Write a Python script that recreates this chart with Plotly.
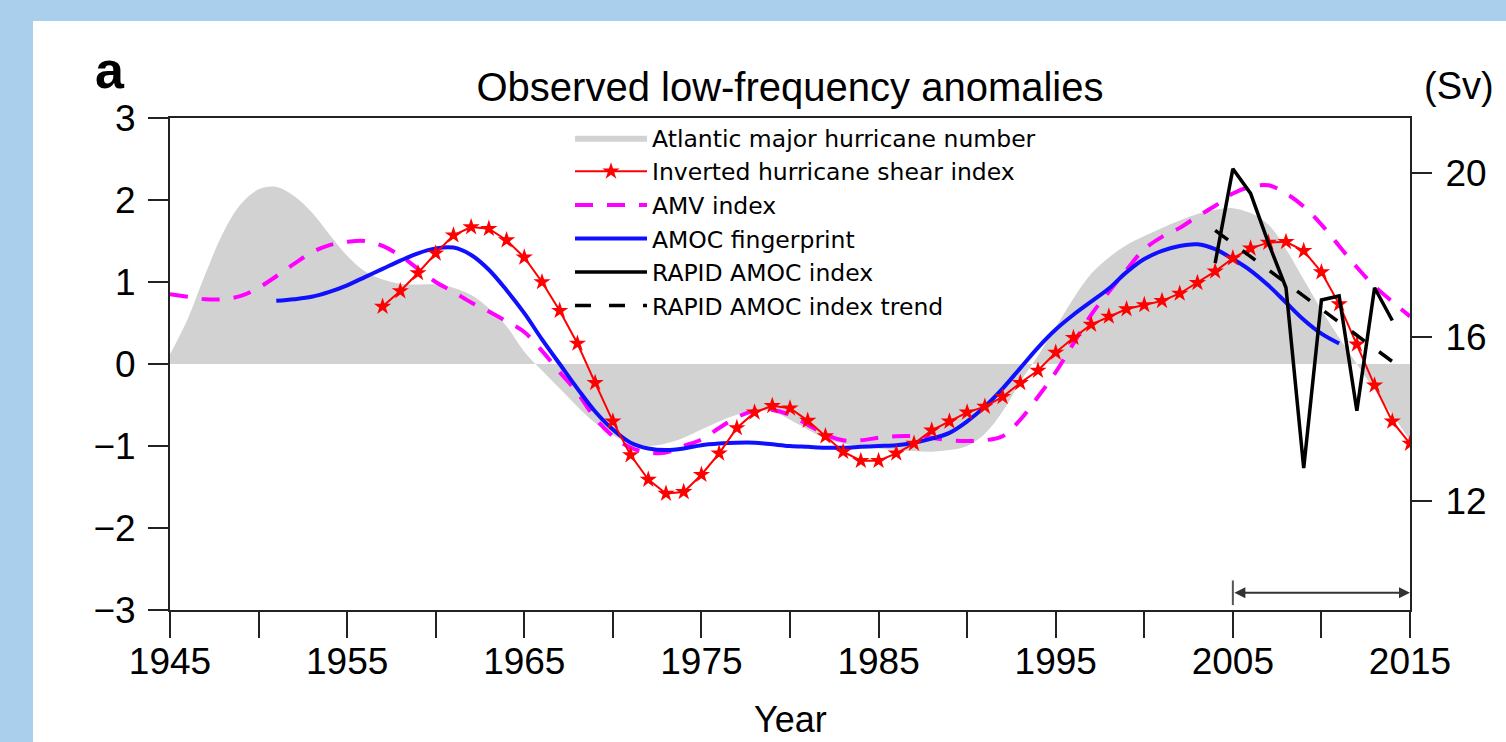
import plotly.graph_objects as go

# ---------------- data ----------------
HURR_YEARS = list(range(1945, 2016))
HURR_VALUES = [0.12, 0.55, 1.10, 1.60, 1.95, 2.13, 2.16, 2.05, 1.85, 1.58,
               1.32, 1.13, 1.03, 0.98, 0.97, 0.97, 0.93, 0.84, 0.68, 0.46,
               0.15, -0.08, -0.30, -0.52, -0.72, -0.87, -0.96, -1.00, -0.97, -0.90,
               -0.80, -0.70, -0.62, -0.57, -0.58, -0.68, -0.80, -0.91, -0.97, -1.00,
               -1.03, -1.05, -1.06, -1.07, -1.05, -1.00, -0.85, -0.58, -0.22, 0.10,
               0.45, 0.80, 1.10, 1.30, 1.45, 1.56, 1.66, 1.75, 1.83, 1.88,
               1.90, 1.84, 1.70, 1.40, 1.03, 0.66, 0.32, 0.00, -0.32, -0.62,
               -0.93]

SHEAR_YEARS = list(range(1957, 2016))
SHEAR_VALUES = [0.70, 0.89, 1.11, 1.35, 1.57, 1.67, 1.65, 1.51, 1.30, 1.00,
                0.65, 0.25, -0.23, -0.70, -1.11, -1.41, -1.58, -1.56, -1.35, -1.09,
                -0.78, -0.59, -0.51, -0.54, -0.69, -0.88, -1.07, -1.18, -1.18, -1.09,
                -0.97, -0.81, -0.70, -0.59, -0.52, -0.40, -0.23, -0.08, 0.14, 0.32,
                0.48, 0.58, 0.67, 0.72, 0.77, 0.86, 0.99, 1.13, 1.29, 1.41,
                1.48, 1.49, 1.38, 1.12, 0.73, 0.24, -0.26, -0.70, -0.97]

AMV_YEARS = list(range(1945, 2016))
AMV_VALUES = [0.85, 0.82, 0.79, 0.79, 0.83, 0.93, 1.07, 1.22, 1.36, 1.45,
              1.49, 1.50, 1.44, 1.32, 1.16, 1.00, 0.88, 0.75, 0.64, 0.52,
              0.39, 0.16, -0.10, -0.35, -0.66, -0.88, -1.02, -1.08, -1.08, -1.00,
              -0.92, -0.78, -0.65, -0.57, -0.56, -0.62, -0.74, -0.86, -0.93, -0.93,
              -0.90, -0.88, -0.88, -0.90, -0.93, -0.94, -0.93, -0.88, -0.68, -0.40,
              -0.10, 0.25, 0.60, 0.88, 1.15, 1.40, 1.55, 1.66, 1.80, 1.93,
              2.08, 2.16, 2.18, 2.08, 1.92, 1.70, 1.44, 1.18, 0.95, 0.76,
              0.58]

AMOC_YEARS = list(range(1951, 2012))
AMOC_VALUES = [0.77, 0.79, 0.82, 0.88, 0.96, 1.06, 1.16, 1.26, 1.35, 1.41,
               1.42, 1.33, 1.15, 0.90, 0.62, 0.30, 0.00, -0.30, -0.58, -0.80,
               -0.96, -1.03, -1.05, -1.03, -0.99, -0.97, -0.96, -0.96, -0.98, -1.00,
               -1.01, -1.02, -1.02, -1.01, -1.00, -0.99, -0.96, -0.91, -0.84, -0.70,
               -0.52, -0.30, -0.05, 0.20, 0.42, 0.60, 0.76, 0.92, 1.12, 1.28,
               1.38, 1.44, 1.46, 1.40, 1.28, 1.14, 0.96, 0.75, 0.54, 0.37,
               0.25]

RAPID_YEARS = list(range(2004, 2015))
RAPID_SV = [17.8, 20.1, 19.5, 18.3, 17.2, 12.8, 16.9, 17.0, 14.2, 17.2, 16.4]

TREND_YEARS = [2004, 2014]
TREND_SV = [18.6, 15.4]

ARROW_YEARS = [2005, 2015]
ARROW_LEVEL = -2.79

X_TICKS = list(range(1945, 2016, 5))
X_LABELS = [str(v) if (v - 1945) % 10 == 0 else "" for v in X_TICKS]
Y_TICKS = [-3, -2, -1, 0, 1, 2, 3]
Y2_TICKS = [12, 16, 20]

NAMES = ["Atlantic major hurricane number", "Inverted hurricane shear index",
         "AMV index", "AMOC fingerprint", "RAPID AMOC index",
         "RAPID AMOC index trend"]

# ---------------- figure ----------------
FONT = "Liberation Sans, Arial, Helvetica, sans-serif"
LEGEND_FONT = "DejaVu Sans, Liberation Sans, Arial, sans-serif"
BLUE_BG = "#a9cfec"
W, H = 1506, 742
L, R, T, B = 170, 96, 118, 132
PW, PH = W - L - R, H - T - B

fig = go.Figure()

fig.add_trace(go.Scatter(
    x=HURR_YEARS, y=HURR_VALUES, name=NAMES[0], mode="lines",
    line=dict(width=0, shape="spline", color="#d2d2d2"),
    fill="tozeroy", fillcolor="#d2d2d2", legendrank=1))

fig.add_trace(go.Scatter(
    x=AMV_YEARS, y=AMV_VALUES, name=NAMES[2], mode="lines",
    line=dict(width=4, color="#ff00ff", dash="18px,14px", shape="spline"),
    legendrank=3))

fig.add_trace(go.Scatter(
    x=AMOC_YEARS, y=AMOC_VALUES, name=NAMES[3], mode="lines",
    line=dict(width=4, color="#1010ff", shape="spline"), legendrank=4))

fig.add_trace(go.Scatter(
    x=SHEAR_YEARS, y=SHEAR_VALUES, name=NAMES[1], mode="lines+markers",
    line=dict(width=2, color="#ff0000"),
    marker=dict(symbol="star", size=13, color="#ff0000", line=dict(width=0)),
    legendrank=2))

fig.add_trace(go.Scatter(
    x=RAPID_YEARS, y=RAPID_SV, name=NAMES[4], mode="lines", yaxis="y2",
    line=dict(width=3.5, color="black"), legendrank=5))

fig.add_trace(go.Scatter(
    x=TREND_YEARS, y=TREND_SV, name=NAMES[5], mode="lines", yaxis="y2",
    line=dict(width=3.5, color="black", dash="16px,18px"), legendrank=6))


def px_x(p):
    return (p - L) / PW


def px_y(p):
    return (H - B - p) / PH


# white panel on the blue page
fig.add_shape(type="rect", xref="paper", yref="paper",
              x0=px_x(33), x1=px_x(W + 5), y0=px_y(H + 5), y1=px_y(21),
              fillcolor="white", line=dict(width=0), layer="below")

# period marker (2005-2015)
fig.add_annotation(x=ARROW_YEARS[1], y=ARROW_LEVEL, ax=ARROW_YEARS[0], ay=ARROW_LEVEL,
                   xref="x", yref="y", axref="x", ayref="y", text="",
                   showarrow=True, arrowside="end+start", arrowhead=2,
                   arrowsize=1.1, arrowwidth=2, arrowcolor="#333")
fig.add_shape(type="line", xref="x", yref="y", x0=ARROW_YEARS[0], x1=ARROW_YEARS[0],
              y0=ARROW_LEVEL - 0.15, y1=ARROW_LEVEL + 0.15,
              line=dict(color="#555", width=2))

# texts
fig.add_annotation(x=px_x(110), y=px_y(70), xref="paper", yref="paper",
                   xanchor="center", yanchor="middle",
                   text="<b>a</b>", showarrow=False,
                   font=dict(size=52, family=FONT, color="black"))
fig.add_annotation(x=px_x(1459), y=px_y(86), xref="paper", yref="paper",
                   xanchor="center", yanchor="middle",
                   text="(Sv)", showarrow=False,
                   font=dict(size=38, family=FONT, color="black"))
fig.add_annotation(x=px_x(790), y=px_y(719), xref="paper", yref="paper",
                   xanchor="center", yanchor="middle",
                   text="Year", showarrow=False,
                   font=dict(size=36, family=FONT, color="black"))

axis_line = dict(showline=True, linecolor="#222", linewidth=2, showgrid=False,
                 zeroline=False, ticks="outside", tickcolor="#222", tickwidth=2,
                 automargin=False)

fig.update_layout(
    width=W, height=H, template="none",
    margin=dict(l=L, r=R, t=T, b=B, pad=0),
    paper_bgcolor=BLUE_BG, plot_bgcolor="white",
    font=dict(family=FONT, color="black"),
    title=dict(text="Observed low-frequency anomalies", x=790 / W, xanchor="center",
               y=1 - 87 / H, yanchor="middle",
               font=dict(size=40, family=FONT, color="black")),
    xaxis=dict(range=[1945, 2015], tickvals=X_TICKS, ticktext=X_LABELS,
               ticklen=26, tickfont=dict(size=37), mirror=True,
               ticklabelstandoff=-8, **axis_line),
    yaxis=dict(range=[-3, 3], tickvals=Y_TICKS, ticklen=20,
               tickfont=dict(size=37), mirror=True, ticklabelstandoff=5,
               **axis_line),
    yaxis2=dict(range=[9.34, 21.34], tickvals=Y2_TICKS, overlaying="y", side="right",
                ticklen=20, tickfont=dict(size=37), ticklabelstandoff=6,
                **axis_line),
    legend=dict(x=px_x(570), y=px_y(116), xanchor="left", yanchor="top",
                bgcolor="rgba(0,0,0,0)", borderwidth=0,
                font=dict(size=23.5, family=LEGEND_FONT, color="black"),
                traceorder="normal", itemwidth=72),
    showlegend=True,
)

fig.write_html(
    "out.html",
    config={"displayModeBar": False},
    post_script="document.body.style.margin='0';"
                "document.body.style.background='" + BLUE_BG + "';",
)
